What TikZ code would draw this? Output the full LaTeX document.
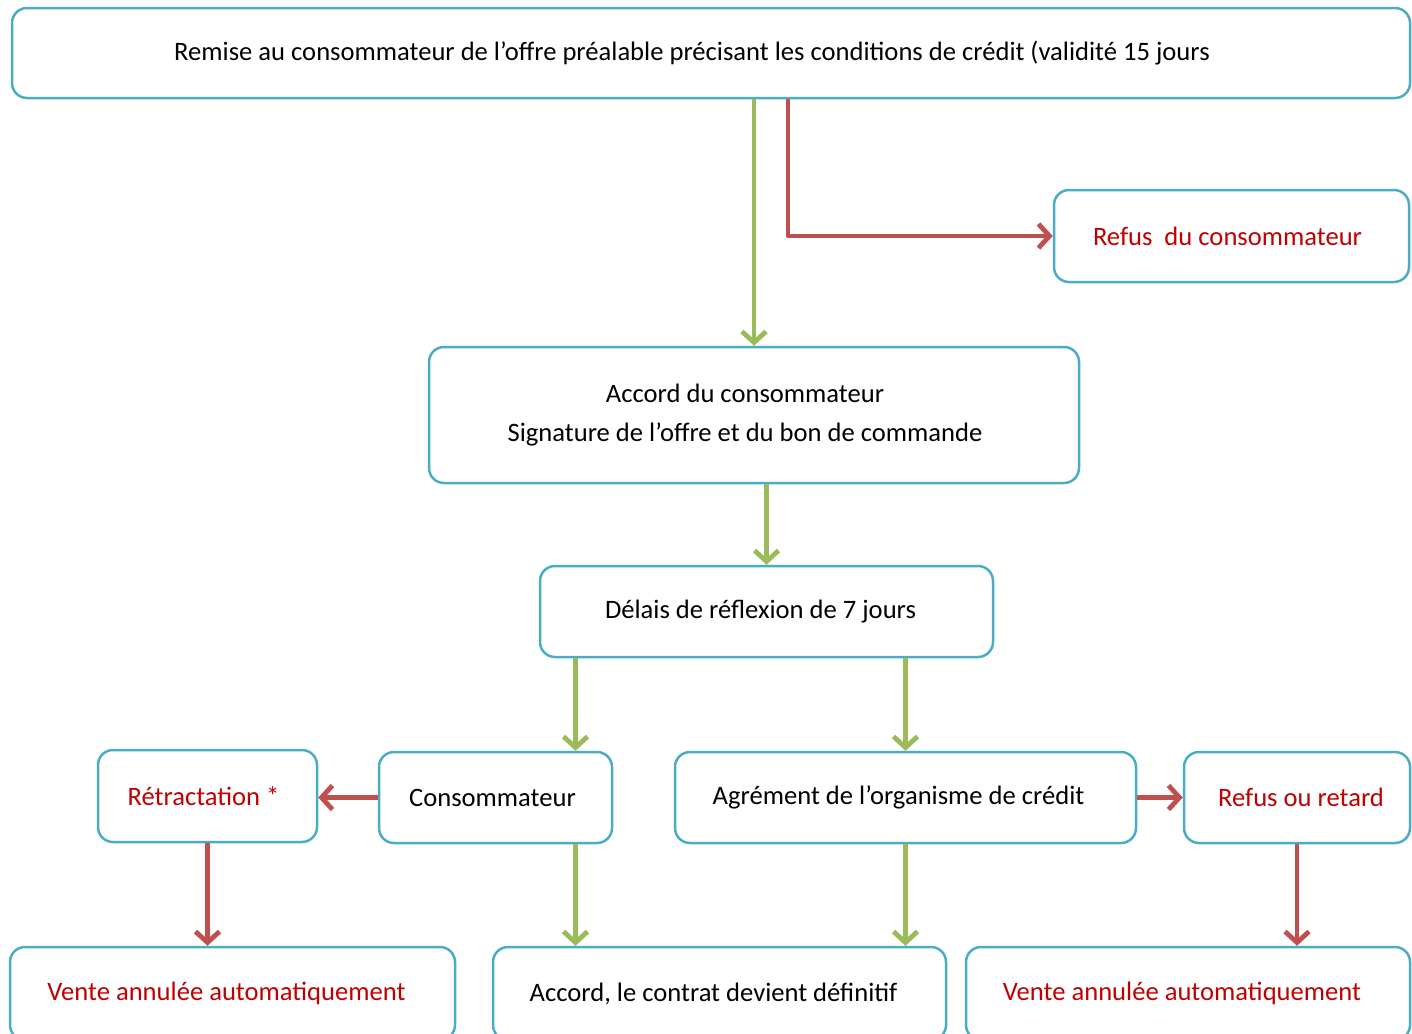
\documentclass[tikz,border=0pt]{standalone}
\usepackage{fontspec}
\setmainfont{Carlito}
\definecolor{boxblue}{RGB}{75, 172, 198}
\definecolor{okgreen}{RGB}{155, 187, 89}
\definecolor{nored}{RGB}{192, 80, 77}
\definecolor{textred}{RGB}{192, 0, 0}
\usetikzlibrary{
  arrows.meta,
  calc,
  positioning,
}
\tikzset{
  >={Straight Barb[length=5.5pt,width=12pt]},
  box/.style={draw=boxblue,line width=1.25pt,rectangle,rounded corners=7.5pt,align=center,
    font=\fontsize{13.3}{19.5}\selectfont,inner sep=0pt},
  redtext/.style={text=textred},
  okarrow/.style={->,draw=okgreen,line width=2.4pt,line join=round},
  noarrow/.style={->,draw=nored,line width=2.4pt,line join=round},
}
\begin{document}
\begin{tikzpicture}[x=0.5pt,y=-0.5pt]
        \clip (0,0) rectangle (1412,1033);

        \node[box,minimum width=699pt,minimum height=45pt]      (offre)    at (711,53)      {Remise au consommateur de l’offre préalable précisant les conditions de crédit (validité 15 jours\hspace*{19pt}};
        \node[box,redtext,minimum width=177.5pt,minimum height=46pt]    (refus1)   at (1231.5,236)  {Refus\ \ du consommateur\hspace*{4pt}};
        \node[box,minimum width=325pt,minimum height=68pt]      (accord)   at (754,415)     {Accord du consommateur\hspace*{9pt}\\Signature de l’offre et du bon de commande\hspace*{9pt}};
        \node[box,minimum width=226.5pt,minimum height=45.5pt]  (delais)   at (766.5,611.5) {Délais de réflexion de 7 jours\hspace*{6pt}};
        \node[box,redtext,minimum width=109.5pt,minimum height=46pt]    (retract)  at (207.5,796)   {Rétractation *\hspace*{4pt}};
        \node[box,minimum width=116.5pt,minimum height=45.5pt]  (consom)   at (495.5,797.5) {Consommateur\hspace*{3pt}};
        \node[box,minimum width=230.5pt,minimum height=45.5pt]  (agrement) at (905.5,797.5) {Agrément de l’organisme de crédit\hspace*{7pt}};
        \node[box,redtext,minimum width=113pt,minimum height=45.5pt]    (refus2)   at (1297,797.5)  {\hspace*{4pt}Refus ou retard};
        \node[box,redtext,minimum width=222.5pt,minimum height=46.5pt]  (vente1)   at (232.5,993.5) {Vente annulée automatiquement\hspace*{6pt}};
        \node[box,minimum width=226.5pt,minimum height=46.5pt]  (accord2)  at (719.5,993.5) {Accord, le contrat devient définitif\hspace*{6pt}};
        \node[box,redtext,minimum width=222pt,minimum height=46.5pt]    (vente2)   at (1188,993.5)  {Vente annulée automatiquement\hspace*{6pt}};

        \draw[okarrow] (offre.south -| accord.north) -- (accord.north);
        \draw[noarrow] ([xshift=17pt]offre.south -| accord.north) |- (refus1.west);
        \draw[okarrow] (accord.south -| delais.north) -- (delais.north);
        \draw[okarrow] ([xshift=40pt]consom.north |- delais.south) -- ([xshift=40pt]consom.north);
        \draw[okarrow] (delais.south -| agrement.north) -- (agrement.north);
        \draw[noarrow] (consom.west) -- (consom.west -| retract.east);
        \draw[noarrow] (agrement.east) -- (refus2.west);
        \draw[noarrow] (retract.south) -- (retract.south |- vente1.north);
        \draw[okarrow] ([xshift=40pt]consom.south) -- ([xshift=40pt]consom.south |- accord2.north);
        \draw[okarrow] (agrement.south) -- (agrement.south |- accord2.north);
        \draw[noarrow] (refus2.south) -- (refus2.south |- vente2.north);

    \end{tikzpicture}
\end{document}
